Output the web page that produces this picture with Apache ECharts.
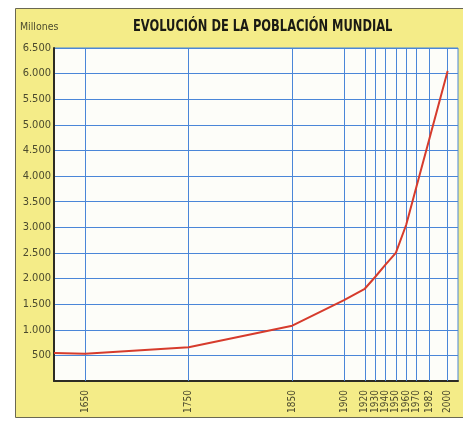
<!DOCTYPE html>
<html>
<head>
<meta charset="utf-8">
<script src="https://cdn.jsdelivr.net/npm/echarts@6/dist/echarts.min.js"></script>
<style>
html,body{margin:0;padding:0;background:#ffffff;}
#chart{width:463px;height:421px;}
</style>
</head>
<body>
<div id="chart"></div>
<script>
// Data (population in millions)
const years = [1620, 1650, 1750, 1850, 1900, 1920, 1930, 1940, 1950, 1960, 1970, 1982, 2000];
const population = [545, 530, 660, 1080, 1580, 1800, 2030, 2270, 2500, 3050, 3800, 4700, 6050];
const tickYears = [1650, 1750, 1850, 1900, 1920, 1930, 1940, 1950, 1960, 1970, 1982, 2000];
const titleText = 'EVOLUCIÓN DE LA POBLACIÓN MUNDIAL';
const unitText = 'Millones';

const narrow = '"Liberation Sans Narrow", "DejaVu Sans Condensed", "Roboto Condensed", sans-serif';
const gridBlue = '#4a86d8';
const labelColor = '#4b4a2e';
const plotTop = 48, plotBottom = 40;
const plotHeight = 421 - plotTop - plotBottom;

const chart = echarts.init(document.getElementById('chart'), null, {renderer: 'canvas'});
chart.setOption({
  animation: false,
  backgroundColor: '#ffffff',
  graphic: [
    {type: 'rect', z: -10, shape: {x: 15.5, y: 8.5, width: 450, height: 409},
     style: {fill: '#f4ec88', stroke: '#6a6852', lineWidth: 1}},
    {type: 'text', x: 20, y: 22, scaleX: 0.95, style: {text: unitText, font: '11px ' + narrow, fill: labelColor}},
    {type: 'text', x: 133, y: 20, scaleX: 0.85,
     style: {text: titleText, font: 'bold 15px ' + narrow, fill: '#1a1a14'}}
  ],
  grid: {left: 54, top: plotTop, right: 5, bottom: plotBottom, show: true, backgroundColor: '#fdfdf9', borderColor: gridBlue, borderWidth: 1},
  xAxis: {
    type: 'value', min: 1620, max: 2010,
    axisLine: {show: true, lineStyle: {color: '#2d2c24', width: 2}},
    axisTick: {show: true, inside: true, length: plotHeight, customValues: tickYears,
               lineStyle: {color: gridBlue, width: 1}},
    splitLine: {show: false},
    axisLabel: {
      customValues: tickYears, rotate: 90, margin: 9,
      fontFamily: narrow, fontSize: 10, color: labelColor,
      formatter: v => String(v)
    }
  },
  yAxis: {
    type: 'value', min: 0, max: 6500, interval: 500,
    axisLine: {show: true, lineStyle: {color: '#2d2c24', width: 2}},
    axisTick: {show: false},
    splitLine: {show: true, lineStyle: {color: gridBlue, width: 1}},
    axisLabel: {
      margin: 3, fontFamily: narrow, fontSize: 11, color: labelColor,
      formatter: v => v === 0 ? '' : (v >= 1000 ? Math.floor(v / 1000) + '.' + String(v % 1000).padStart(3, '0') : String(v))
    }
  },
  series: [{
    type: 'line',
    data: years.map((y, i) => [y, population[i]]),
    showSymbol: false,
    lineStyle: {color: '#d63b2c', width: 2},
    z: 5
  }]
});
</script>
</body>
</html>
